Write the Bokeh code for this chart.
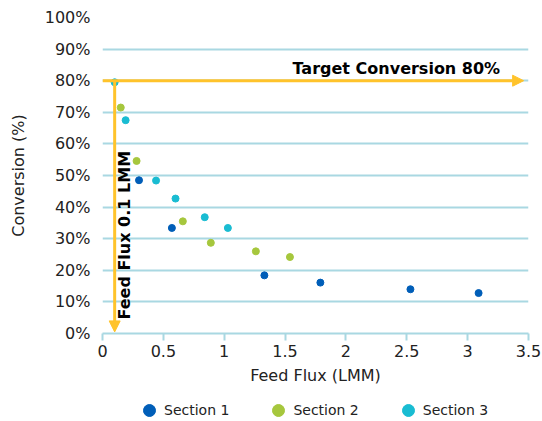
import math
from bokeh.plotting import figure
from bokeh.layouts import column
from bokeh.models import (ColumnDataSource, Arrow, NormalHead, Label, Legend, LegendItem,
                          FixedTicker, PrintfTickFormatter, Range1d)
from bokeh.embed import file_html
from bokeh.resources import INLINE

# ---- data ----
s1_flux = [0.30, 0.57, 1.33, 1.79, 2.53, 3.09]
s1_conv = [48.5, 33.4, 18.4, 16.1, 14.0, 12.8]
s2_flux = [0.15, 0.28, 0.66, 0.89, 1.26, 1.54]
s2_conv = [71.5, 54.6, 35.5, 28.7, 26.0, 24.2]
s3_flux = [0.10, 0.19, 0.44, 0.60, 0.84, 1.03]
s3_conv = [79.5, 67.5, 48.4, 42.7, 36.8, 33.4]
series_names = ["Section 1", "Section 2", "Section 3"]
series_colors = ["#005EB8", "#A6C73D", "#19BCD2"]

x_ticks = [0, 0.5, 1, 1.5, 2, 2.5, 3, 3.5]
x_tick_labels = ["0", "0.5", "1", "1.5", "2", "2.5", "3", "3.5"]
y_ticks = [0, 10, 20, 30, 40, 50, 60, 70, 80, 90, 100]

target_conv = 80
feed_flux = 0.1

FONT = "DejaVu Sans"
GRID = "#A9D8E2"
GOLD = "#FFC32B"
TXT = "#222222"

p = figure(width=542, height=387, output_backend="svg", toolbar_location=None,
           x_range=Range1d(0, 3.5), y_range=Range1d(0, 100),
           min_border_left=102, min_border_right=14, min_border_top=17, min_border_bottom=54)
p.outline_line_color = None
p.background_fill_color = "white"
p.border_fill_color = "white"

# axes
p.xaxis.ticker = FixedTicker(ticks=x_ticks)
p.xaxis.major_label_overrides = {t: l for t, l in zip(x_ticks, x_tick_labels)}
p.xaxis.axis_line_color = GRID
p.xaxis.axis_line_width = 2
p.xaxis.major_tick_line_color = GRID
p.xaxis.major_tick_line_width = 2
p.xaxis.major_tick_out = 7
p.xaxis.major_tick_in = 0
p.xaxis.minor_tick_line_color = None
p.xaxis.major_label_standoff = 4
p.xaxis.axis_label = "Feed Flux (LMM)"
p.xaxis.axis_label_standoff = 6

p.yaxis.ticker = FixedTicker(ticks=y_ticks)
p.yaxis.formatter = PrintfTickFormatter(format="%d%%")
p.yaxis.axis_line_color = None
p.yaxis.major_tick_line_color = None
p.yaxis.minor_tick_line_color = None
p.yaxis.major_label_standoff = 6
p.yaxis.axis_label = "Conversion (%)"
p.yaxis.axis_label_standoff = 14

for ax in (p.xaxis, p.yaxis):
    ax.major_label_text_font = FONT
    ax.major_label_text_font_size = "16px"
    ax.major_label_text_color = TXT
    ax.axis_label_text_font = FONT
    ax.axis_label_text_font_size = "16px"
    ax.axis_label_text_font_style = "normal"
    ax.axis_label_text_color = TXT

p.xgrid.grid_line_color = None
p.ygrid.grid_line_color = GRID
p.ygrid.grid_line_width = 2
p.ygrid.ticker = FixedTicker(ticks=y_ticks)

# arrows
p.add_layout(Arrow(x_start=0, y_start=target_conv, x_end=3.46, y_end=target_conv,
                   line_color=GOLD, line_width=3,
                   end=NormalHead(size=11, fill_color=GOLD, line_color=GOLD, line_width=1)))
p.add_layout(Arrow(x_start=feed_flux, y_start=target_conv, x_end=feed_flux, y_end=0.5,
                   line_color=GOLD, line_width=3,
                   end=NormalHead(size=11, fill_color=GOLD, line_color=GOLD, line_width=1)))

p.add_layout(Label(x=2.414, y=84, text="Target Conversion 80%", text_align="center",
                   text_baseline="middle", text_font=FONT, text_font_size="16px",
                   text_font_style="bold", text_color="black"))
p.add_layout(Label(x=0.177, y=4.4, text="Feed Flux 0.1 LMM", angle=math.pi / 2,
                   text_align="left", text_baseline="middle", text_font=FONT,
                   text_font_size="16px", text_font_style="bold", text_color="black"))

# scatter series
for xs, ys, c in zip([s1_flux, s2_flux, s3_flux], [s1_conv, s2_conv, s3_conv], series_colors):
    src = ColumnDataSource(dict(x=xs, y=ys))
    p.scatter("x", "y", source=src, size=7, fill_color=c, line_color=c)

# legend strip (separate small figure so the legend is not clipped)
lg = figure(width=542, height=34, output_backend="svg", toolbar_location=None,
            x_range=Range1d(0, 1), y_range=Range1d(0, 1),
            min_border_left=0, min_border_right=0, min_border_top=0, min_border_bottom=0)
lg.axis.visible = False
lg.grid.grid_line_color = None
lg.outline_line_color = None
lg.border_fill_color = "white"
lg.background_fill_color = "white"
items = []
for n, c in zip(series_names, series_colors):
    r = lg.scatter(x=[-10], y=[-10], size=7, fill_color=c, line_color=c)
    items.append(LegendItem(label=n, renderers=[r]))
legend = Legend(items=items, orientation="horizontal", location=(32, -4),
                glyph_width=30, glyph_height=30, label_standoff=0, spacing=34,
                padding=0, margin=0, border_line_color=None, background_fill_alpha=0,
                label_text_font=FONT, label_text_font_size="14px", label_text_color=TXT)
lg.add_layout(legend, "center")

layout = column(p, lg, spacing=0)
open("out.html", "w").write(file_html(layout, INLINE))
